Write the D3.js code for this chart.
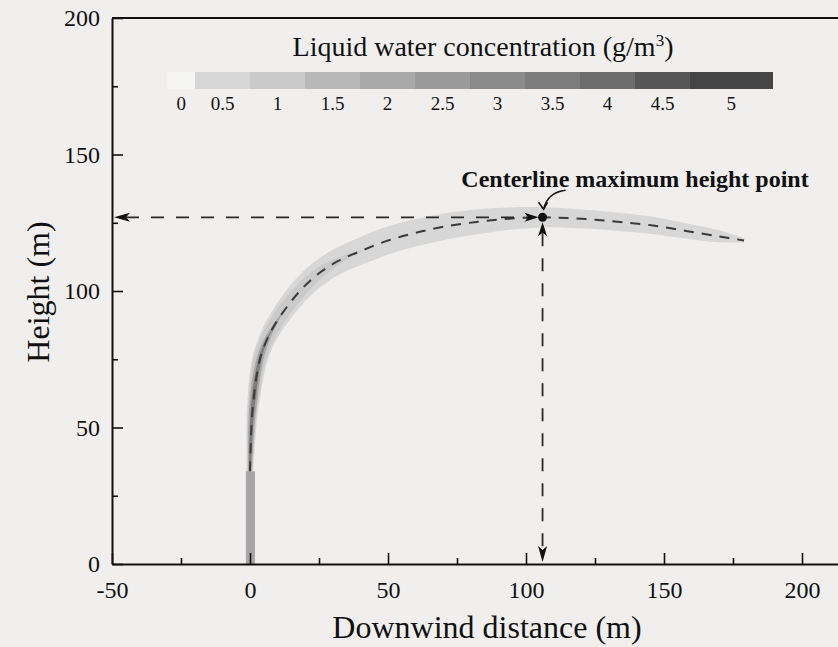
<!DOCTYPE html>
<html>
<head>
<meta charset="utf-8">
<script src="https://cdn.jsdelivr.net/npm/d3@7"></script>
<style>
  body { margin: 0; background: #f0efed; }
  svg { display: block; }
</style>
</head>
<body>
<div id="chart"></div>
<script>
// axis ticks
const xTicks = [-50, 0, 50, 100, 150, 200];
const xMinorTicks = [-25, 25, 75, 125, 175];
const yTicks = [0, 50, 100, 150, 200];
const yMinorTicks = [25, 75, 125, 175];

// plume centerline (m)
const centerX = [0, 0.3, 0.8, 1.5, 2.4, 4, 6.5, 9.5, 14, 19, 25, 32, 41, 50, 60, 70, 82, 94, 106, 115, 125, 135, 146, 158, 170, 179];
const centerY = [34, 45, 55, 62, 69, 76.5, 83, 88.5, 95, 101, 106.5, 111, 115, 118.5, 121.3, 123.5, 125.3, 126.5, 127, 126.7, 126.1, 125.2, 124, 122, 120, 118.5];

// full plume width (m) at each centerline point, per concentration level
const widthLevel05 = [2.4, 3.2, 4, 4.6, 5.2, 5.8, 6.3, 6.9, 7.5, 8.1, 8.7, 9.2, 9.6, 9.8, 9.8, 9.6, 9.1, 8.2, 7.4, 7.1, 6.8, 6.6, 6.3, 5.6, 4.4, 1.5];
const widthLevel1 = [1.8, 2.6, 3.3, 3.9, 4.3, 4.6, 4.8, 4.9, 4.9, 4.6, 4, 2.6, 0];
const widthLevel2 = [1.4, 2, 2.5, 2.8, 2.8, 2.5, 1.9, 1, 0];
const widthLevel35 = [0.6, 1, 1.3, 1.5, 1.4, 1, 0.5, 0];

// stack (m)
const stackX = [-1.5, 1.8];
const stackTop = 34;

// centerline maximum height point
const peakX = 106;
const peakY = 127;

// colour scale legend
const legendLevels = [0, 0.5, 1, 1.5, 2, 2.5, 3, 3.5, 4, 4.5, 5];
const legendColors = ['#f5f5f4', '#d7d7d7', '#cacaca', '#b8b8b8', '#a8a8a8', '#9a9a9a', '#8b8b8b', '#7d7d7d', '#6d6d6d', '#565656', '#454545'];
const legendBounds = [0, 0.25, 0.75, 1.25, 1.75, 2.25, 2.75, 3.25, 3.75, 4.25, 4.75, 5.5];

const W = 838, H = 647;
const serif = '"Liberation Serif", "Times New Roman", serif';

const svg = d3.select('#chart')
    .append('svg')
    .attr('width', W)
    .attr('height', H);

svg.append('rect').attr('width', W).attr('height', H).attr('fill', '#f0efed');

// scales
const x = d3.scaleLinear().domain([-50, 200]).range([112, 802]);
const y = d3.scaleLinear().domain([0, 200]).range([564, 18]);
const xAxisScale = x.copy().domain([-50, x.invert(W)]).range([112, W]);
const colorOf = d3.scaleOrdinal().domain(legendLevels).range(legendColors);

// stack
svg.append('rect')
    .attr('x', x(stackX[0]))
    .attr('y', y(stackTop))
    .attr('width', x(stackX[1]) - x(stackX[0]))
    .attr('height', y(0) - y(stackTop))
    .attr('fill', '#a6a6a6');

// plume bands
const centerPts = centerX.map((d, i) => [x(d), y(centerY[i])]);

function unit(a, b) {
    const dx = b[0] - a[0], dy = b[1] - a[1];
    const l = Math.hypot(dx, dy) || 1;
    return [dx / l, dy / l];
}

function bandPath(widths) {
    let last = widths.length - 1;
    while (last > 0 && widths[last] === 0) last--;
    const n = Math.min(last + 2, centerPts.length);
    const left = [], right = [];
    for (let i = 0; i < n; i++) {
        const p = centerPts[i];
        const u1 = i > 0 ? unit(centerPts[i - 1], p) : null;
        const u2 = i < centerPts.length - 1 ? unit(p, centerPts[i + 1]) : null;
        let tx = (u1 ? u1[0] : 0) + (u2 ? u2[0] : 0);
        let ty = (u1 ? u1[1] : 0) + (u2 ? u2[1] : 0);
        const len = Math.hypot(tx, ty);
        tx /= len; ty /= len;
        const nx = -ty, ny = tx;
        const hw = (y(0) - y(widths[i] || 0)) / 2;
        left.push([p[0] + nx * hw, p[1] + ny * hw]);
        right.push([p[0] - nx * hw, p[1] - ny * hw]);
    }
    const line = d3.line().curve(d3.curveCatmullRom.alpha(0.5));
    const l = line(left);
    const r = line(right.reverse());
    return l + 'L' + r.slice(1) + 'Z';
}

const bands = [
    { level: 0.5, widths: widthLevel05 },
    { level: 1, widths: widthLevel1 },
    { level: 2, widths: widthLevel2 },
    { level: 3.5, widths: widthLevel35 }
];

svg.append('g')
    .selectAll('path')
    .data(bands)
    .enter()
    .append('path')
    .attr('d', (d) => bandPath(d.widths))
    .attr('fill', (d) => colorOf(d.level))
    .attr('stroke', 'none');

// dashed centerline
svg.append('path')
    .datum(centerPts)
    .attr('d', d3.line().curve(d3.curveCatmullRom.alpha(0.5)))
    .attr('fill', 'none')
    .attr('stroke', '#3a3a3a')
    .attr('stroke-width', 2)
    .attr('stroke-dasharray', '10,8');

// axes
function styleAxis(g) {
    g.select('.domain').attr('stroke', '#111').attr('stroke-width', 2);
    g.selectAll('.tick line').attr('stroke', '#111').attr('stroke-width', 1.6);
    g.selectAll('text')
        .attr('font-family', serif)
        .attr('font-size', 24)
        .attr('fill', '#111');
}

svg.append('g')
    .attr('transform', `translate(0,${y(0)})`)
    .call(d3.axisBottom(xAxisScale).tickValues(xTicks).tickSizeInner(-11).tickSizeOuter(0)
        .tickPadding(17).tickFormat((d) => String(d)))
    .call(styleAxis);

svg.append('g')
    .attr('transform', `translate(0,${y(0)})`)
    .call(d3.axisBottom(xAxisScale).tickValues(xMinorTicks).tickSizeInner(-6).tickSizeOuter(0).tickFormat(''))
    .call(styleAxis)
    .call((g) => g.select('.domain').remove());

svg.append('g')
    .attr('transform', `translate(${x(-50)},0)`)
    .call(d3.axisLeft(y).tickValues(yTicks).tickSizeInner(-11).tickSizeOuter(0)
        .tickPadding(12).tickFormat((d) => String(d)))
    .call(styleAxis);

svg.append('g')
    .attr('transform', `translate(${x(-50)},0)`)
    .call(d3.axisLeft(y).tickValues(yMinorTicks).tickSizeInner(-6).tickSizeOuter(0).tickFormat(''))
    .call(styleAxis)
    .call((g) => g.select('.domain').remove());

// top frame
svg.append('line')
    .attr('x1', x(-50)).attr('x2', W)
    .attr('y1', y(200)).attr('y2', y(200))
    .attr('stroke', '#111')
    .attr('stroke-width', 2);

// axis titles
svg.append('text')
    .attr('x', 487)
    .attr('y', 638)
    .attr('text-anchor', 'middle')
    .attr('font-family', serif)
    .attr('font-size', 32)
    .attr('fill', '#111')
    .text('Downwind distance (m)');

svg.append('text')
    .attr('transform', `translate(49,292) rotate(-90)`)
    .attr('text-anchor', 'middle')
    .attr('font-family', serif)
    .attr('font-size', 32)
    .attr('fill', '#111')
    .text('Height (m)');

// annotation: dashed arrows to the peak
const px = x(peakX), py = y(peakY);
const ann = svg.append('g');

ann.append('line')
    .attr('x1', x(-50) + 14).attr('x2', px - 12)
    .attr('y1', py).attr('y2', py)
    .attr('stroke', '#2a2a2a').attr('stroke-width', 1.8)
    .attr('stroke-dasharray', '13,12');

ann.append('line')
    .attr('x1', px).attr('x2', px)
    .attr('y1', py + 16).attr('y2', y(0) - 16)
    .attr('stroke', '#2a2a2a').attr('stroke-width', 1.8)
    .attr('stroke-dasharray', '13,12');

function arrowHead(tx, ty, angle, len, half) {
    const r = angle * Math.PI / 180;
    const c = Math.cos(r), s = Math.sin(r);
    const pts = [[0, 0], [-len, -half], [-len * 0.75, 0], [-len, half]]
        .map(([u, v]) => [tx + u * c - v * s, ty + u * s + v * c]);
    ann.append('path')
        .attr('d', d3.line()(pts) + 'Z')
        .attr('fill', '#111');
}

arrowHead(x(-50) + 2, py, 180, 16, 4.5);
arrowHead(px - 4, py, 0, 14, 4.5);
arrowHead(px, py + 5, -90, 14, 4.5);
arrowHead(px, y(0) - 2, 90, 16, 4.5);

ann.append('circle')
    .attr('cx', px).attr('cy', py)
    .attr('r', 4.5)
    .attr('fill', '#111');

// curved pointer from label
ann.append('path')
    .attr('d', `M${px + 23},${py - 27} Q${px + 5},${py - 25} ${px + 1},${py - 8}`)
    .attr('fill', 'none')
    .attr('stroke', '#111')
    .attr('stroke-width', 1.5);
ann.append('path')
    .attr('d', `M${px - 4},${py - 15} L${px + 1},${py - 8} L${px + 5},${py - 15}`)
    .attr('fill', 'none')
    .attr('stroke', '#111')
    .attr('stroke-width', 1.5);

ann.append('text')
    .attr('x', 635)
    .attr('y', 187)
    .attr('text-anchor', 'middle')
    .attr('font-family', serif)
    .attr('font-weight', 'bold')
    .attr('font-size', 24)
    .attr('fill', '#111')
    .text('Centerline maximum height point');

// colour legend
const lg = svg.append('g');
const lx = d3.scaleLinear().domain([0.25, 4.75]).range([195, 690]);

lg.selectAll('rect')
    .data(legendLevels)
    .enter()
    .append('rect')
    .attr('x', (d, i) => lx(legendBounds[i]))
    .attr('y', 72)
    .attr('width', (d, i) => lx(legendBounds[i + 1]) - lx(legendBounds[i]) + 0.5)
    .attr('height', 17)
    .attr('fill', (d) => colorOf(d));

lg.selectAll('text.lbl')
    .data(legendLevels)
    .enter()
    .append('text')
    .attr('class', 'lbl')
    .attr('x', (d, i) => lx((legendBounds[i] + legendBounds[i + 1]) / 2))
    .attr('y', 110)
    .attr('text-anchor', 'middle')
    .attr('font-family', serif)
    .attr('font-size', 19)
    .attr('fill', '#111')
    .text((d) => String(d));

const title = lg.append('text')
    .attr('x', 483)
    .attr('y', 56)
    .attr('text-anchor', 'middle')
    .attr('font-family', serif)
    .attr('font-size', 28)
    .attr('fill', '#111');
title.append('tspan').text('Liquid water concentration (g/m');
title.append('tspan').attr('font-size', 17).attr('dy', -10).text('3');
title.append('tspan').attr('dy', 10).text(')');
</script>
</body>
</html>
